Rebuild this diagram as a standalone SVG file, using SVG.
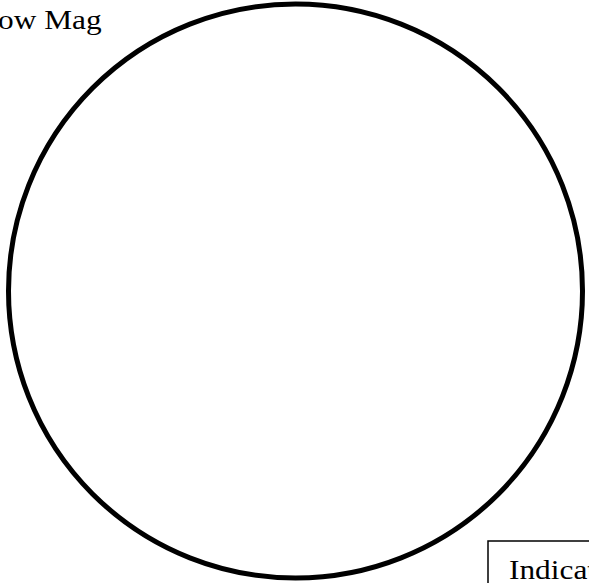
<svg xmlns="http://www.w3.org/2000/svg" width="589" height="583" viewBox="0 0 589 583">
<style>
.t{font-family:"Liberation Serif","Times New Roman",serif;font-size:28px;fill:#000}
</style>
<rect width="589" height="583" fill="#fff"/>
<g id="circle"><circle cx="295.5" cy="291" r="287" fill="none" stroke="#000" stroke-width="5"/></g>
<g id="label-mag"><text class="t" transform="translate(-2 28.5) scale(1.12 1)" x="0" y="0">ow Mag</text></g>
<g id="indicator"><rect x="488" y="541" width="110" height="60" fill="#fff" stroke="#000" stroke-width="1.5"/><text class="t" transform="translate(509 579) scale(1.12 1)" x="0" y="0">Indicat</text></g>
</svg>
